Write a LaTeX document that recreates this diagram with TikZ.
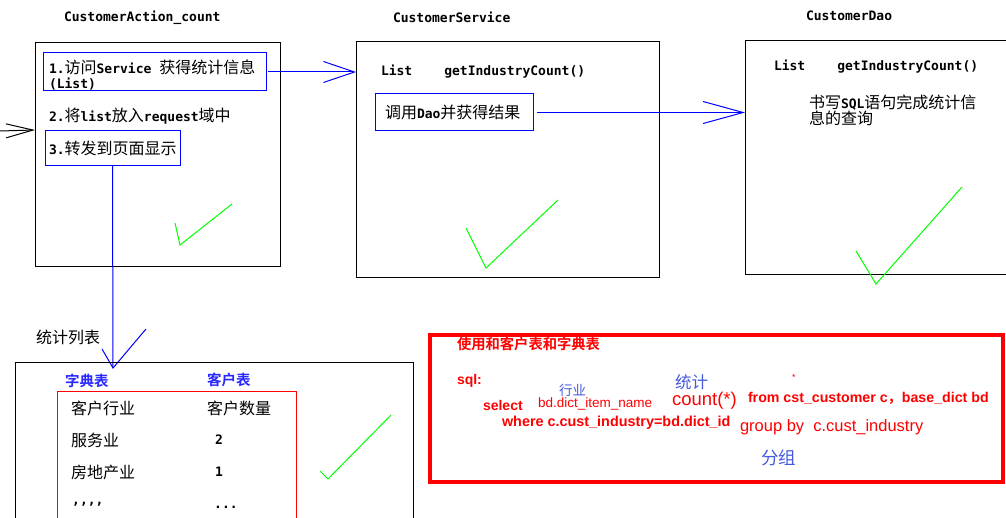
\documentclass[tikz,border=0pt]{standalone}
\usepackage{fontspec}
\usetikzlibrary{arrows.meta}
\setmainfont{Liberation Sans}
\newfontfamily\mbf{DejaVu Sans Mono}[BoldFont={DejaVu Sans Mono Bold}]
\newfontfamily\cjkf{Noto Sans CJK SC}[BoldFont={Noto Sans CJK SC Bold}]
\newcommand\Mo[1]{{\mbf\bfseries\fontsize{13}{15}\selectfont #1}}
\newcommand\Cj[1]{{\cjkf\fontsize{16}{15}\selectfont #1}}
\definecolor{tblue}{RGB}{40,40,255}
\definecolor{ablue}{RGB}{70,90,220}
\definecolor{chk}{RGB}{0,255,0}
\definecolor{sred}{RGB}{255,0,0}
\begin{document}
\begin{tikzpicture}[x=1pt,y=-1pt,
  box/.style={draw=black,line width=1pt,anchor=north west,inner sep=0pt,outer sep=0pt},
  bluebox/.style={draw=blue,line width=1pt,anchor=north west,inner sep=0pt,outer sep=0pt},
  redbox/.style={draw=red,line width=1pt,anchor=north west,inner sep=0pt,outer sep=0pt},
  txt/.style={anchor=west,inner sep=0pt,outer sep=0pt,font=\fontsize{16}{15}\selectfont},
  link/.style={draw=blue,line width=1pt},
  check/.style={draw=chk,line width=1pt},
]
\useasboundingbox (0,0) rectangle (1006,518);
\clip (0,0) rectangle (1006,518);
\fill[white] (0,0) rectangle (1006,518);

% ---- titles
\node[txt] (tact) at (64,18) {\Mo{CustomerAction\_count}};
\node[txt] (tsvc) at (393,17) {\Mo{CustomerService}};
\node[txt] (tdao) at (806,16) {\Mo{CustomerDao}};

% ---- action box
\node[box,minimum width=245pt,minimum height=224pt] (act) at (35,43) {};
\node[bluebox,minimum width=223pt,minimum height=38pt] (a1) at (43,53) {};
\node[txt,align=left] (a1t) at (49,75.5) {\Mo{1.}\Cj{访问}\Mo{Service }\Cj{获得统计信息}\\\Mo{(List)}};
\node[txt] (a2t) at (49,116) {\Mo{2.}\Cj{将}\Mo{list}\Cj{放入}\Mo{request}\Cj{域中}};
\node[bluebox,minimum width=135pt,minimum height=35pt] (b3) at (45,131) {};
\node[txt] (b3t) at (49,148) {\Mo{3.}\Cj{转发到页面显示}};

% ---- service box
\node[box,minimum width=303pt,minimum height=236pt] (svc) at (356,42) {};
\node[txt] (svcm) at (381,72) {\Mo{List\hspace*{32pt}getIndustryCount()}};
\node[bluebox,minimum width=158pt,minimum height=37pt] (s1) at (375,94) {};
\node[txt] (s1t) at (385,112) {\Cj{调用}\Mo{Dao}\Cj{并获得结果}};

% ---- dao box
\node[box,minimum width=300pt,minimum height=234pt] (dao) at (745,41) {};
\node[txt] (daom) at (774,67) {\Mo{List\hspace*{32pt}getIndustryCount()}};
\node[txt,align=left] (daot) at (809,110.5) {\Cj{书写}\Mo{SQL}\Cj{语句完成统计信}\\\Cj{息的查询}};

% ---- connectors
\coordinate (lin) at (0,131);
\coordinate (atip) at (35,130);
\draw[line width=1pt,-{Straight Barb[length=27pt,width=14pt]}] (lin) -- (atip);
\draw[link,-{Straight Barb[length=31pt,width=21pt]}] ([xshift=2pt]a1.east) -- (svc.west |- a1.east);
\draw[link,-{Straight Barb[length=40pt,width=22pt]}] ([xshift=4pt]s1.east) -- (dao.west |- s1.east);
\coordinate (t3) at (113,368);
\coordinate (t3l) at (102,349);
\coordinate (t3r) at (146,329);
\draw[link] (b3.south) -- (t3);
\draw[link] (t3l) -- (t3) -- (t3r);

% ---- checks
\draw[check] (175,223) -- (180,245) -- (232,204);
\draw[check] (466,228) -- (486,268) -- (558,200);
\draw[check] (856,251) -- (876,284) -- (962,187);
\draw[check] (320,471) -- (328,479) -- (391,415);

% ---- result table
\node[txt] (lbl) at (36,337) {\Cj{统计列表}};
\node[box,minimum width=398pt,minimum height=200pt] (tbl) at (15,362) {};
\node[txt,text=tblue] (zd) at (65,381) {{\cjkf\bfseries\fontsize{14.5}{15}\selectfont 字典表}};
\node[txt,text=tblue] (kh) at (207,380) {{\cjkf\bfseries\fontsize{14.5}{15}\selectfont 客户表}};
\node[redbox,minimum width=239pt,minimum height=200pt] (rt) at (57,391) {};
\node[txt] (r1a) at (71,408) {\Cj{客户行业}};
\node[txt] (r1b) at (207,408) {\Cj{客户数量}};
\node[txt] (r2a) at (71,440) {\Cj{服务业}};
\node[txt] (r2b) at (215,440) {\Mo{2}};
\node[txt] (r3a) at (71,472) {\Cj{房地产业}};
\node[txt] (r3b) at (215,472) {\Mo{1}};
\node[anchor=base west,inner sep=0pt] (r4a) at (72,504) {\Mo{,,,,}};
\node[anchor=base west,inner sep=0pt] (r4b) at (214,508) {\Mo{...}};

% ---- SQL box
\node[anchor=north west,draw=red,line width=4pt,minimum width=573pt,minimum height=147pt,inner sep=0pt] (sql) at (428,333) {};
\node[txt,text=sred] (q1) at (457,344) {{\cjkf\bfseries\fontsize{14.3}{15}\selectfont 使用和客户表和字典表}};
\node[txt,text=sred] (q2) at (457,381) {{\bfseries\fontsize{14}{15}\selectfont sql:}};
\node[txt,text=ablue] (q3) at (559,390) {{\cjkf\fontsize{13.5}{15}\selectfont 行业}};
\node[txt,text=ablue] (q4) at (675,382) {{\cjkf\fontsize{16.5}{15}\selectfont 统计}};
\node[txt,text=sred] (q5) at (792,377) {{\fontsize{9}{10}\selectfont *}};
\node[txt,text=sred] (q6) at (483,405) {{\bfseries\fontsize{14}{15}\selectfont select}};
\node[txt,text=sred] (q7) at (538,404) {{\fontsize{13.5}{15}\selectfont bd.dict\_item\_name}};
\node[txt,text=sred] (q8) at (672,401) {{\fontsize{18.5}{20}\selectfont count(*)}};
\node[txt,text=sred] (q9) at (748,398) {{\bfseries\fontsize{14.2}{15}\selectfont from cst\_customer c{\cjkf ，}base\_dict bd}};
\node[txt,text=sred] (q10) at (502,423) {{\bfseries\fontsize{14.4}{15}\selectfont where c.cust\_industry=bd.dict\_id}};
\node[txt,text=sred] (q11) at (740,427) {{\fontsize{16.5}{18}\selectfont group by\hspace{4.5pt} c.cust\_industry}};
\node[txt,text=ablue] (q12) at (761,458) {{\cjkf\fontsize{17.5}{18}\selectfont 分组}};
\end{tikzpicture}
\end{document}
